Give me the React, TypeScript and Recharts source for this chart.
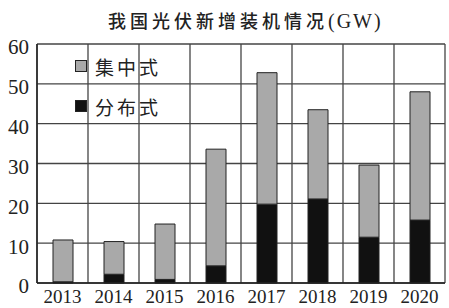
import { BarChart, Bar, XAxis, YAxis, CartesianGrid } from "recharts";

const years = ["2013", "2014", "2015", "2016", "2017", "2018", "2019", "2020"];
// 分布式 (bottom, black)
const distributed = [0.3, 2.2, 0.9, 4.3, 19.8, 21.1, 11.5, 15.8];
// 集中式 (top, gray)
const centralized = [10.5, 8.2, 13.9, 29.3, 33.0, 22.4, 18.1, 32.2];
const yTicks = [0, 10, 20, 30, 40, 50, 60];
const legendItems = [
  { key: "centralized", label: "集中式", color: "#a9a9a9" },
  { key: "distributed", label: "分布式", color: "#111" },
];

const data = years.map((year, i) => ({
  year,
  distributed: distributed[i],
  centralized: centralized[i],
}));

const serif = "'Liberation Serif', 'DejaVu Serif', serif";
const cjk = "'Noto Sans CJK SC', sans-serif";

export default function App() {
  return (
    <div style={{ position: "absolute", left: 0, top: 0, width: 449, height: 308, background: "#fff" }}>
      <div
        style={{
          position: "absolute",
          left: 108,
          top: 7,
          whiteSpace: "nowrap",
          fontFamily: cjk,
          fontSize: 18,
          fontWeight: 500,
          letterSpacing: 4,
          color: "#222",
        }}
      >
        我国光伏新增装机情况<span style={{ fontFamily: serif, fontSize: 20, letterSpacing: 2 }}>(GW)</span>
      </div>
      <BarChart
        width={449}
        height={308}
        data={data}
        margin={{ top: 44, right: 4, left: 0, bottom: 0 }}
        barSize={20}
      >
        <CartesianGrid
          stroke="#444"
          strokeWidth={1.3}
          verticalCoordinatesGenerator={({ offset }: any) =>
            years.map((_, i) => offset.left + (i * offset.width) / years.length).concat(offset.left + offset.width)
          }
        />
        <XAxis
          dataKey="year"
          height={25}
          tickLine={false}
          axisLine={{ stroke: "#222", strokeWidth: 1.5 }}
          tick={{ fill: "#222", fontFamily: serif, fontSize: 19 }}
          interval={0}
          tickMargin={1}
        />
        <YAxis
          width={37}
          domain={[0, 60]}
          ticks={yTicks}
          tickLine={false}
          axisLine={{ stroke: "#222", strokeWidth: 1.5 }}
          tick={{ fill: "#222", fontFamily: serif, fontSize: 21, dy: 3 }}
          tickMargin={2}
        />
        <Bar dataKey="distributed" stackId="a" fill="#111" stroke="#222" strokeWidth={1} isAnimationActive={false} />
        <Bar dataKey="centralized" stackId="a" fill="#a9a9a9" stroke="#222" strokeWidth={1} isAnimationActive={false} />
      </BarChart>
      <div style={{ position: "absolute", left: 75, top: 54, display: "flex", flexDirection: "column", gap: 16 }}>
        {legendItems.map((it) => (
          <div key={it.key} style={{ display: "flex", alignItems: "center", height: 24 }}>
            <span
              style={{
                width: 10,
                height: 10,
                background: it.color,
                border: "1px solid #222",
                marginRight: 8,
              }}
            />
            <span style={{ fontFamily: cjk, fontSize: 19, color: "#222", letterSpacing: 3 }}>{it.label}</span>
          </div>
        ))}
      </div>
    </div>
  );
}
